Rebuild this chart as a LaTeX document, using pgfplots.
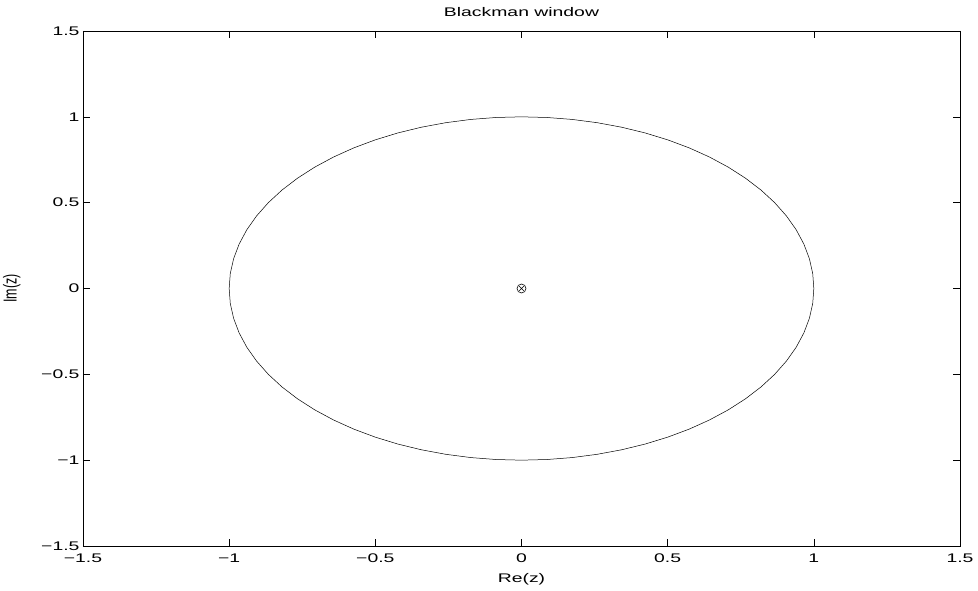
\documentclass[border=0pt]{standalone}
\usepackage{fontspec}
\setmainfont{Liberation Sans}
\newfontfamily\widefont[FakeStretch=1.55]{Liberation Sans}
\usepackage{graphicx}
\usepackage{pgfplots}
\pgfplotsset{compat=1.18}
\newcommand{\plotfont}{\widefont\fontsize{12.5bp}{14bp}\selectfont}
\begin{document}
\begin{tikzpicture}
\useasboundingbox (-83bp,-45bp) rectangle (895bp,546bp);
\begin{axis}[
  scale only axis,
  width=877bp, height=515bp,
  xmin=-1.5, xmax=1.5, ymin=-1.5, ymax=1.5,
  xtick={-1.5,-1,-0.5,0,0.5,1,1.5},
  ytick={-1.5,-1,-0.5,0,0.5,1,1.5},
  xticklabels={−1.5,−1,−0.5,0,0.5,1,1.5},
  yticklabels={−1.5,−1,−0.5,0,0.5,1,1.5},
  tick align=inside,
  major tick length=7bp,
  tick style={black, line width=0.5pt},
  axis line style={line width=0.8pt},
  tick label style={font=\plotfont},
  xticklabel style={yshift=-4bp},
  xlabel style={font=\plotfont, yshift=-4bp},
  ylabel style={font=\fontsize{12.5bp}{14bp}\selectfont, yshift=14bp},
  title style={font=\plotfont, yshift=5bp},
  title={Blackman window},
  xlabel={Re(z)},
  ylabel={\scalebox{1}[1.5]{Im(z)}},
  /pgf/number format/assume math mode=true,
]
% unit circle
\addplot[black, line width=0.5pt] coordinates {
(1,0) (0.9962,0.0872) (0.9848,0.1736) (0.9659,0.2588) (0.9397,0.3420) (0.9063,0.4226)
(0.8660,0.5) (0.8192,0.5736) (0.7660,0.6428) (0.7071,0.7071) (0.6428,0.7660) (0.5736,0.8192)
(0.5,0.8660) (0.4226,0.9063) (0.3420,0.9397) (0.2588,0.9659) (0.1736,0.9848) (0.0872,0.9962)
(0,1) (-0.0872,0.9962) (-0.1736,0.9848) (-0.2588,0.9659) (-0.3420,0.9397) (-0.4226,0.9063)
(-0.5,0.8660) (-0.5736,0.8192) (-0.6428,0.7660) (-0.7071,0.7071) (-0.7660,0.6428) (-0.8192,0.5736)
(-0.8660,0.5) (-0.9063,0.4226) (-0.9397,0.3420) (-0.9659,0.2588) (-0.9848,0.1736) (-0.9962,0.0872)
(-1,0) (-0.9962,-0.0872) (-0.9848,-0.1736) (-0.9659,-0.2588) (-0.9397,-0.3420) (-0.9063,-0.4226)
(-0.8660,-0.5) (-0.8192,-0.5736) (-0.7660,-0.6428) (-0.7071,-0.7071) (-0.6428,-0.7660) (-0.5736,-0.8192)
(-0.5,-0.8660) (-0.4226,-0.9063) (-0.3420,-0.9397) (-0.2588,-0.9659) (-0.1736,-0.9848) (-0.0872,-0.9962)
(0,-1) (0.0872,-0.9962) (0.1736,-0.9848) (0.2588,-0.9659) (0.3420,-0.9397) (0.4226,-0.9063)
(0.5,-0.8660) (0.5736,-0.8192) (0.6428,-0.7660) (0.7071,-0.7071) (0.7660,-0.6428) (0.8192,-0.5736)
(0.8660,-0.5) (0.9063,-0.4226) (0.9397,-0.3420) (0.9659,-0.2588) (0.9848,-0.1736) (0.9962,-0.0872)
(1,0)
};
% zero at the origin
\addplot[only marks, mark=o, mark size=4.5bp, mark options={black, line width=0.6pt}] coordinates {(0,0)};
% pole at the origin
\addplot[only marks, mark=x, mark size=3.2bp, mark options={black, line width=0.6pt}] coordinates {(0,0)};
\end{axis}
\end{tikzpicture}
\end{document}
